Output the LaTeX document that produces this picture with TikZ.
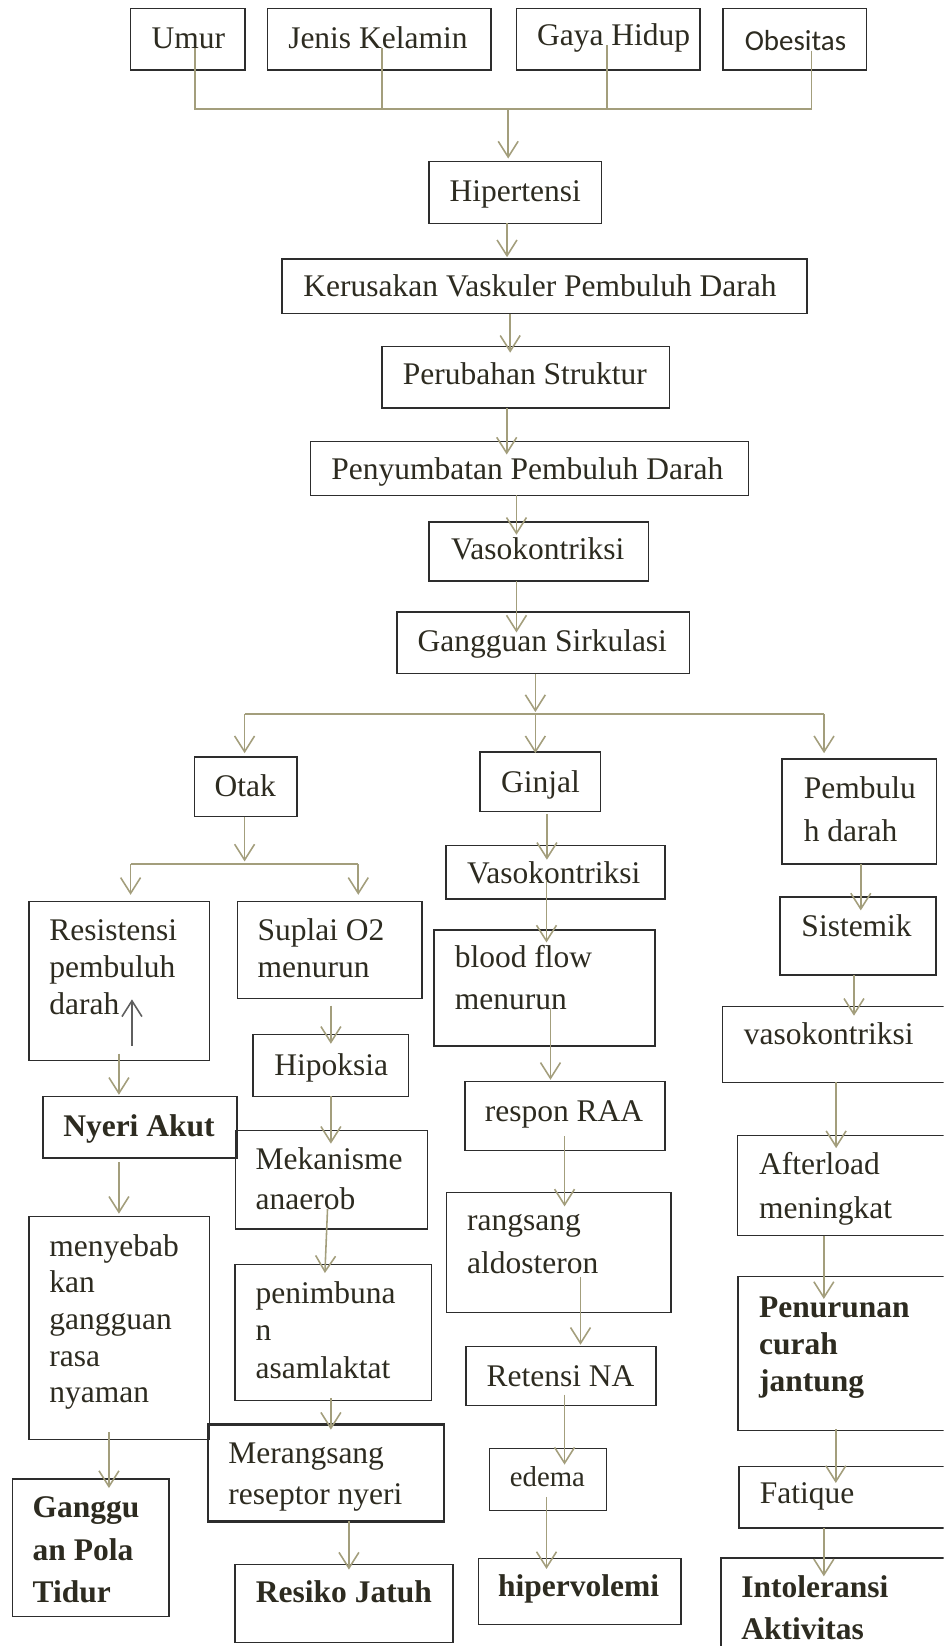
\documentclass[tikz,border=0pt]{standalone}
\usepackage{fontspec}
\setmainfont{Liberation Serif}
\newfontfamily\calfont{Carlito}
\usetikzlibrary{arrows.meta,calc}
\definecolor{txtc}{RGB}{45,43,32}
\definecolor{boxc}{RGB}{45,45,45}
\definecolor{linec}{RGB}{163,158,124}
\definecolor{upc}{RGB}{95,95,95}
\tikzset{
  box/.style={draw=boxc,line width=1.4pt,inner sep=0pt,outer sep=0pt,anchor=north west},
  txt/.style={text=txtc,inner sep=0pt,outer sep=0pt,anchor=base west,align=left,font=\fontsize{30}{35.4}\selectfont},
  ln/.style={draw=linec,line width=1.5pt},
  arr/.style={draw=linec,line width=1.5pt,-{Straight Barb[length=15pt,width=19pt,line width=1.5pt]}},
  uparr/.style={draw=upc,line width=1.5pt,-{Straight Barb[length=15pt,width=19pt,line width=1.5pt]}}
}
\newcommand\mybox[5]{\node[box,minimum width={#4-#2},minimum height={#5-#3}] (#1) at (#2,#3) {};}
\newcommand\conn[5]{\draw[arr] ($(#1 -| #3,0)+(0,#2)$) -- ($(#4 -| #3,0)+(0,#5)$);}
\begin{document}
\begin{tikzpicture}[x=1pt,y=-1pt]
\useasboundingbox (0,0) rectangle (899,1568);
\clip (0,0) rectangle (899,1568);
% ---------- boxes ----------
\mybox{umur}{124.4}{7.9}{233.3}{66.7}
\mybox{jk}{254.9}{7.9}{467.6}{66.7}
\mybox{gh}{492}{7.9}{666.7}{66.7}
\mybox{ob}{688.9}{7.9}{825.4}{66.7}
\mybox{hip}{408.6}{154}{573}{212.7}
\mybox{ker}{268.6}{246.7}{768.6}{298.7}
\mybox{per}{363.8}{330}{638}{388.6}
\mybox{pen}{296}{420.6}{713}{472}
\mybox{vas}{408.6}{497.4}{618}{553.6}
\mybox{gang}{378}{583}{657}{641.6}
\mybox{otak}{185.4}{721}{282.8}{777.8}
\mybox{ginjal}{457.4}{716.2}{571.8}{773}
\mybox{pd}{745}{723.2}{892}{822.9}
\mybox{res}{27.6}{858.7}{199.4}{1010.2}
\mybox{sup}{226}{858.7}{402.2}{951}
\mybox{vasb}{424.8}{805.4}{633.6}{856.5}
\mybox{bf}{413.3}{885.7}{624.1}{996.2}
\mybox{sis}{742.9}{854.3}{891.5}{929}
\mybox{vasc}{688.3}{958.7}{930}{1031.1}
\mybox{hipok}{241}{985.7}{389.2}{1044.4}
\mybox{nyeri}{41}{1044.4}{225.7}{1103.2}
\mybox{mek}{224.1}{1076.8}{407}{1170.8}
\mybox{raa}{442.9}{1030.2}{633.7}{1095.9}
\mybox{after}{702.5}{1081.9}{930}{1177.1}
\mybox{rang}{425.4}{1135.9}{639}{1250.2}
\mybox{meny}{27.6}{1158.7}{199.4}{1371.4}
\mybox{pnb}{223.8}{1204.8}{411.1}{1334}
\mybox{pcj}{703.2}{1215.9}{930}{1362.5}
\mybox{ret}{444.1}{1282.5}{624.8}{1339}
\node[box,line width=2.3pt,minimum width={423.2-198.1},minimum height={1449.2-1357.1}] (mer) at (198.1,1357.1) {};
\mybox{edema}{466.3}{1379.7}{577.5}{1438.8}
\mybox{fat}{703.8}{1396.8}{930}{1455.6}
\mybox{gpt}{11.7}{1408.9}{161}{1539.7}
\mybox{hyp}{455.6}{1484.8}{648.6}{1547.6}
\mybox{rj}{223.8}{1490.5}{431.7}{1564.4}
\mybox{intol}{686.7}{1484.1}{930}{1600}
% ---------- texts (multi-line: anchored at last baseline) ----------
\node[txt] (umur-t) at (144.4,46) {Umur};
\node[txt] (jk-t) at (274.6,46) {Jenis Kelamin};
\node[txt] (gh-t) at (511.7,42.9) {Gaya Hidup};
\node[txt,font=\calfont\fontsize{27.6}{33}\selectfont] (ob-t) at (709.5,48.3) {Obesitas};
\node[txt] (hip-t) at (428.4,192) {Hipertensi};
\node[txt] (ker-t) at (289.1,282.5) {Kerusakan Vaskuler Pembuluh Darah};
\node[txt] (per-t) at (383.8,366.7) {Perubahan Struktur};
\node[txt] (pen-t) at (315.7,457.1) {Penyumbatan Pembuluh Darah};
\node[txt] (vas-t) at (429.8,533.3) {Vasokontriksi};
\node[txt] (gang-t) at (397.9,620.6) {Gangguan Sirkulasi};
\node[txt] (otak-t) at (204.5,758.7) {Otak};
\node[txt] (ginjal-t) at (477.4,755) {Ginjal};
\node[txt,font=\fontsize{30}{41.3}\selectfont] (pd-t) at (765.7,801.6) {Pembulu\\h darah};
\node[txt] (vasb-t) at (445,841.3) {Vasokontriksi};
\node[txt] (res-t) at (47,966.7) {Resistensi\\pembuluh\\darah};
\node[txt,font=\fontsize{30}{35}\selectfont] (sup-t) at (245.4,930.9) {Suplai O2\\menurun};
\node[txt,font=\fontsize{30}{40.6}\selectfont] (bf-t) at (433.3,961.9) {blood flow\\menurun};
\node[txt] (sis-t) at (763.5,892) {Sistemik};
\node[txt] (vasc-t) at (708.6,995.2) {vasokontriksi};
\node[txt] (hipok-t) at (261.3,1024.8) {Hipoksia};
\node[txt,font=\bfseries\fontsize{30}{35.4}\selectfont] (nyeri-t) at (60.3,1082.5) {Nyeri Akut};
\node[txt] (raa-t) at (461.9,1068.3) {respon RAA};
\node[txt,font=\fontsize{30}{37.4}\selectfont] (mek-t) at (243.5,1151.7) {Mekanisme\\anaerob};
\node[txt,font=\fontsize{30}{41.3}\selectfont] (after-t) at (723.2,1160.3) {Afterload\\meningkat};
\node[txt,font=\fontsize{30}{40.7}\selectfont] (rang-t) at (445,1212.7) {rangsang\\aldosteron};
\node[txt,font=\fontsize{30}{34.9}\selectfont] (meny-t) at (47,1336.4) {menyebab\\kan\\gangguan\\rasa\\nyaman};
\node[txt,font=\fontsize{30}{35.7}\selectfont] (pnb-t) at (243.5,1312.7) {penimbuna\\n\\asamlaktat};
\node[txt,font=\bfseries\fontsize{30}{35.4}\selectfont] (pcj-t) at (723.2,1325.4) {Penurunan\\curah\\jantung};
\node[txt] (ret-t) at (463.5,1320.6) {Retensi NA};
\node[txt,font=\fontsize{30}{39.6}\selectfont] (mer-t) at (217.5,1433.3) {Merangsang\\reseptor nyeri};
\node[txt,font=\fontsize{27.4}{33}\selectfont] (edema-t) at (485.7,1415.9) {edema};
\node[txt] (fat-t) at (723.8,1432.4) {Fatique};
\node[txt,font=\bfseries\fontsize{30}{40.5}\selectfont] (gpt-t) at (31.1,1527) {Ganggu\\an Pola\\Tidur};
\node[txt,font=\bfseries\fontsize{30}{35.4}\selectfont] (hyp-t) at (474.6,1520.6) {hipervolemi};
\node[txt,font=\bfseries\fontsize{30}{35.4}\selectfont] (rj-t) at (243.8,1527) {Resiko Jatuh};
\node[txt,font=\bfseries\fontsize{30}{39.7}\selectfont] (intol-t) at (706.3,1561.9) {Intoleransi\\Aktivitas};
% ---------- connectors: top merge ----------
\coordinate (t0) at (484.1,104.1);
\draw[ln] (umur-t.base -| 185.7,0) |- (t0);
\draw[ln] (jk-t.base -| 364.1,0) |- (t0);
\draw[ln] (gh-t.base -| 578.4,0) |- (t0);
\draw[ln] (ob-t.base -| 773,0) |- (t0);
\draw[arr] (t0) -- ($(hip.north -| t0)+(0,-3)$);
% ---------- main chain ----------
\conn{hip.south}{0}{483}{ker.north}{-1.7}
\conn{ker.south}{0}{486}{per.north}{6}
\conn{per.south}{0}{482.7}{pen.north}{12.4}
\conn{pen.south}{0}{492}{vas.north}{12}
\conn{vas.south}{0}{492}{gang.north}{19.5}
\coordinate (s1) at (510,680.3);
\coordinate (s1l) at (233,680.3);
\coordinate (s1r) at (785,680.3);
\draw[arr] (gang.south -| s1) -- ($(s1)+(0,-2)$);
\draw[ln] (s1l) -- (s1r);
\draw[arr] (s1l) -- ($(otak.north -| s1l)+(0,-3.5)$);
\draw[arr] (s1) -- ($(ginjal.north -| s1)+(0,1.3)$);
\draw[arr] (s1r) -- ($(pd.north -| s1r)+(0,-5.7)$);
% ---------- Otak branch ----------
\coordinate (s2) at (233,822.9);
\coordinate (s2l) at (124.4,822.9);
\coordinate (s2r) at (341.3,822.9);
\draw[arr] (otak.south -| s2) -- ($(s2)+(0,-2.3)$);
\draw[ln] (s2l) -- (s2r);
\draw[arr] (s2l) -- ($(res.north -| s2l)+(0,-6.3)$);
\draw[arr] (s2r) -- ($(sup.north -| s2r)+(0,-6.3)$);
\coordinate (upa) at (125.7,996);
\coordinate (upb) at (125.7,952);
\draw[uparr] (upa) -- (upb);
\conn{res.south}{-6.4}{113.3}{nyeri.north}{-1.5}
\conn{nyeri.south}{4.1}{113.3}{meny.north}{-2.5}
\conn{meny.south}{-7}{103.8}{gpt.north}{8.6}
\conn{sup.south}{7}{315.2}{hipok.north}{8.6}
\conn{hipok.south}{0}{315.2}{mek.north}{12.7}
\draw[arr] ($(mek.south -| 312,0)+(0,-19.1)$) -- ($(pnb.north -| 309.5,0)+(0,7.9)$);
\conn{pnb.south}{-2.3}{315.2}{mer.north}{4.8}
\conn{mer.south}{0}{332.4}{rj.north}{4.7}
% ---------- Ginjal branch ----------
\conn{ginjal.south}{2.5}{521}{vasb.north}{13.6}
\conn{vasb.south}{-18.5}{520.6}{bf.north}{12.1}
\conn{bf.south}{-34.9}{524.4}{raa.north}{-1.6}
\conn{raa.south}{-13.4}{537.8}{rang.north}{13.3}
\conn{rang.south}{-33.7}{553}{ret.north}{-1.5}
\conn{ret.south}{-10.4}{537.8}{edema.north}{15.5}
\conn{edema.south}{-12.8}{520.6}{hyp.north}{9.8}
% ---------- Pembuluh darah branch ----------
\conn{pd.south}{0}{820}{sis.north}{13}
\conn{sis.south}{0}{813.5}{vasc.north}{8.9}
\conn{vasc.south}{0}{796.5}{after.north}{11.8}
\conn{after.south}{0}{784.8}{pcj.north}{21.5}
\conn{pcj.south}{-1.2}{796.2}{fat.north}{15.9}
\conn{fat.south}{0}{784.8}{intol.north}{17.5}
\end{tikzpicture}
\end{document}
